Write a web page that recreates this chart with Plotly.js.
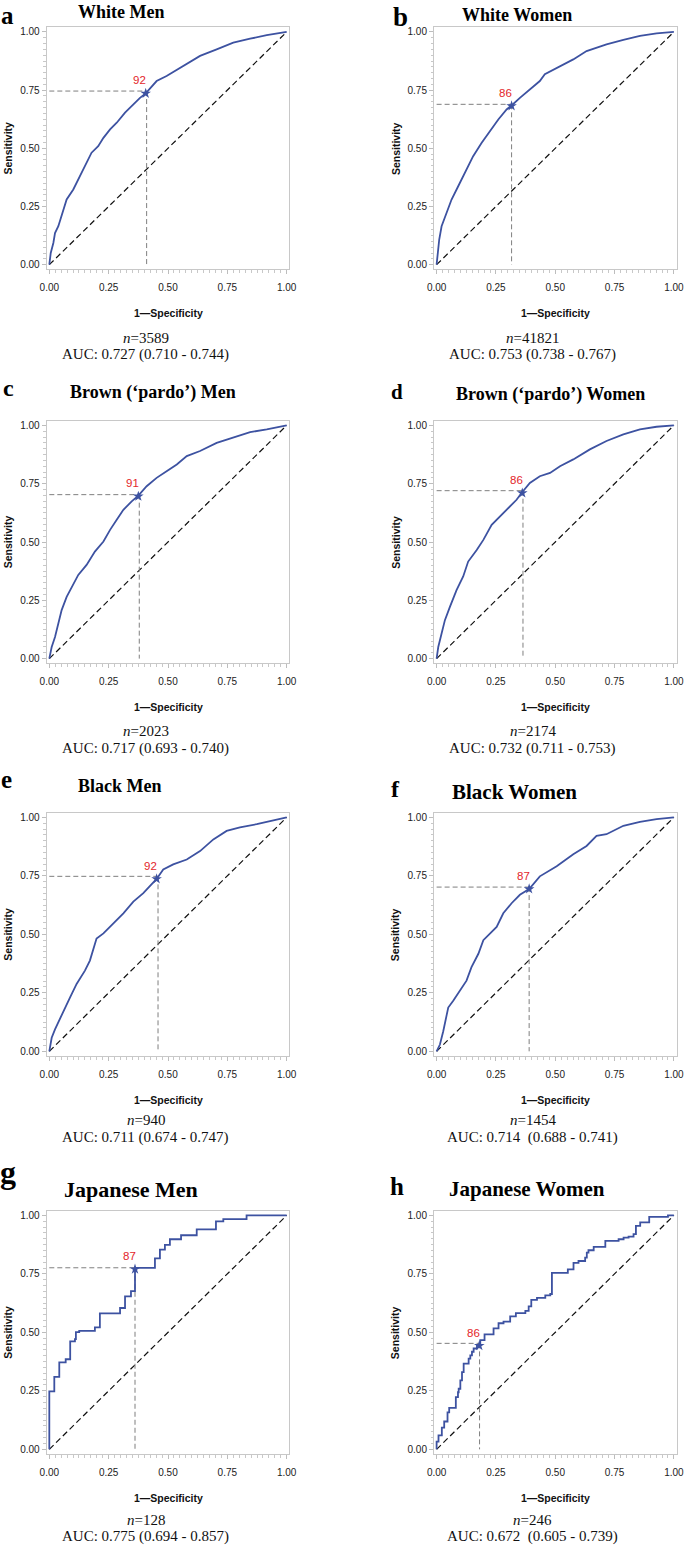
<!DOCTYPE html>
<html>
<head>
<meta charset="utf-8">
<script src="https://cdn.plot.ly/plotly-3.0.1.min.js"></script>
<style>html,body{margin:0;padding:0;background:#fff;}#chart{width:685px;height:1547px;}</style>
</head>
<body>
<div id="chart"></div>
<script>
// ---------- DATA ----------
const panelLetters = ['a','b','c','d','e','f','g','h'];
const panelTitles = ['White Men','White Women','Brown (\u2018pardo\u2019) Men','Brown (\u2018pardo\u2019) Women','Black Men','Black Women','Japanese Men','Japanese Women'];
const nValues = ['3589','41821','2023','2174','940','1454','128','246'];
const aucTexts = ['AUC: 0.727 (0.710 - 0.744)','AUC: 0.753 (0.738 - 0.767)','AUC: 0.717 (0.693 - 0.740)','AUC: 0.732 (0.711 - 0.753)','AUC: 0.711 (0.674 - 0.747)','AUC: 0.714 \u00a0(0.688 - 0.741)','AUC: 0.775 (0.694 - 0.857)','AUC: 0.672 \u00a0(0.605 - 0.739)'];
const cutoffLabels = ['92','86','91','86','92','87','87','86'];
const starX = [0.406,0.316,0.375,0.361,0.452,0.390,0.361,0.180];
const starY = [0.736,0.682,0.696,0.710,0.737,0.694,0.770,0.443];
const refX  = [0.410,0.316,0.379,0.364,0.458,0.390,0.361,0.181];
const refY  = [0.746,0.689,0.703,0.720,0.748,0.702,0.776,0.453];
const diagX = [0,1];
const diagY = [0,1];
const tickVals = [0,0.25,0.5,0.75,1];
const tickLabels = ['0.00','0.25','0.50','0.75','1.00'];

const fprA = [0,.006,.017,.024,.038,.052,.073,.101,.129,.157,.178,.206,.228,.256,.284,.319,.354,.382,.406,.438,.452,.494,.564,.635,.705,.775,.846,.916,1];
const tprA = [0,.05,.093,.136,.165,.208,.28,.323,.38,.438,.481,.509,.545,.581,.61,.653,.689,.717,.736,.77,.789,.811,.854,.897,.925,.954,.971,.986,1];
const fprB = [0,.004,.011,.021,.042,.063,.091,.119,.154,.19,.225,.26,.295,.316,.351,.393,.435,.456,.506,.576,.632,.716,.787,.857,.927,1];
const tprB = [0,.05,.108,.165,.222,.28,.337,.395,.466,.524,.574,.624,.667,.684,.717,.753,.789,.818,.846,.882,.918,.947,.966,.983,.994,1];
const fprC = [0,.01,.024,.038,.052,.073,.094,.122,.157,.192,.228,.256,.284,.312,.347,.375,.41,.452,.494,.537,.579,.635,.705,.775,.846,.916,1];
const tprC = [0,.05,.093,.151,.208,.265,.308,.359,.402,.459,.502,.552,.595,.638,.674,.699,.739,.775,.803,.832,.868,.89,.925,.947,.971,.983,1];
const fprD = [0,.007,.021,.035,.056,.084,.112,.133,.169,.197,.232,.267,.309,.337,.358,.393,.435,.478,.52,.576,.646,.716,.787,.857,.927,1];
const tprD = [0,.05,.108,.165,.222,.294,.352,.416,.466,.509,.574,.61,.653,.681,.71,.753,.782,.796,.825,.854,.897,.933,.961,.983,.994,1];
const fprE = [0,.01,.024,.045,.066,.087,.115,.15,.171,.185,.199,.228,.27,.312,.354,.396,.452,.48,.522,.579,.635,.691,.747,.803,.874,.944,1];
const tprE = [0,.058,.094,.137,.187,.23,.288,.345,.388,.439,.482,.504,.547,.59,.64,.676,.737,.777,.799,.82,.856,.906,.942,.957,.971,.986,1];
const fprF = [0,.014,.028,.039,.049,.07,.098,.126,.147,.176,.197,.225,.253,.281,.316,.351,.39,.435,.506,.576,.632,.674,.716,.787,.857,.927,1];
const tprF = [0,.029,.086,.144,.187,.216,.259,.302,.36,.417,.475,.504,.532,.59,.633,.669,.694,.748,.791,.842,.878,.921,.928,.964,.981,.993,1];
const fprG = [0,0,.021,.042,.069,.088,.108,.112,.126,.192,.213,.298,.319,.344,.361,.445,.466,.487,.508,.555,.621,.702,.733,.831,1];
const tprG = [0,.248,.31,.372,.385,.461,.471,.501,.506,.521,.581,.604,.654,.676,.776,.816,.854,.874,.898,.915,.94,.974,.984,1,1];
const fprH = [0,0,.008,.022,.032,.046,.053,.081,.09,.093,.1,.107,.114,.135,.142,.149,.156,.17,.184,.202,.24,.261,.282,.31,.334,.374,.388,.399,.423,.458,.479,.486,.553,.577,.598,.626,.633,.64,.662,.711,.767,.788,.809,.83,.84,.858,.896,.975,1];
const tprH = [0,.033,.06,.093,.119,.158,.177,.223,.244,.259,.295,.33,.366,.388,.402,.417,.431,.445,.467,.491,.517,.539,.546,.568,.582,.592,.611,.639,.647,.658,.664,.754,.769,.797,.805,.819,.841,.851,.865,.891,.898,.905,.909,.92,.955,.97,.994,1,1];

const curvesX = [fprA,fprB,fprC,fprD,fprE,fprF,fprG,fprH];
const curvesY = [tprA,tprB,tprC,tprD,tprE,tprF,tprG,tprH];
const curveShape = ['linear','linear','linear','linear','linear','linear','hv','hv'];

// ---------- LAYOUT (pixel positions) ----------
const W = 685, H = 1547;
const PX = x => x / W;
const PY = y => 1 - y / H;
const colBox = [[46.7, 289.3], [434, 676.5]];
const rowBox = [[27.3, 269.3], [420.7, 663.3], [812.7, 1056], [1210.7, 1454]];
const titleSize = [18,18,18,18,18,21,22,21];
const titlePos = [[120.7,12.2],[516.7,14.6],[153,392.2],[550.8,394.6],[119.7,785.6],[514.7,792.2],[130.8,1189.2],[527,1188.6]];
const letterSize = [25,27,24,21,25,24,32,25];
const letterPos = [[7,null],[400.8,null],[8.3,387.8],[397,392.2],[6.7,779.8],[395.5,788.5],[7.5,1172.4],[397,1186.5]];
const textX = [145.7, 532.6];
const nOff = [69, 67.4, 64, 66];
const aucOff = [85.7, 85, 81.7, 82.7];

const serif = 'Liberation Serif, Times New Roman, serif';
const sans = 'Liberation Sans, Arial, sans-serif';
const blue = '#3d52a1';

const data = [];
const layout = {
  width: W, height: H,
  margin: {l:0, r:0, t:0, b:0},
  paper_bgcolor: '#fff', plot_bgcolor: '#fff',
  showlegend: false,
  annotations: []
};

for (let i = 0; i < 8; i++) {
  const col = i % 2, row = Math.floor(i / 2);
  const s = i === 0 ? '' : String(i + 1);
  const xa = 'x' + s, ya = 'y' + s;
  const [bl, br] = colBox[col];
  const [bt, bb] = rowBox[row];
  const common = {
    showline: true, mirror: true, linecolor: '#c8c8c8', linewidth: 1,
    showgrid: false, zeroline: false,
    ticks: 'outside', ticklen: 4, tickcolor: '#bdbdbd', tickwidth: 1,
    tickvals: tickVals, ticktext: tickLabels,
    tickfont: {family: sans, size: 10, color: '#222'},
    minor: {dtick: 0.025, tick0: 0, ticks: 'outside', ticklen: 2.5, tickcolor: '#c8c8c8', tickwidth: 1, showgrid: false},
    fixedrange: true
  };
  layout['xaxis' + s] = Object.assign({}, common, {
    domain: [PX(bl), PX(br)], range: [-0.011, 1.011], anchor: ya, ticklabelstandoff: 5
  });
  layout['yaxis' + s] = Object.assign({}, common, {
    domain: [PY(bb), PY(bt)], range: [-0.02, 1.02], anchor: xa
  });

  // diagonal
  data.push({x: diagX, y: diagY, xaxis: xa, yaxis: ya, mode: 'lines', hoverinfo: 'skip',
    line: {color: '#111', width: 1.2, dash: '6px,3.5px'}});
  // reference dashed lines
  data.push({x: [0, refX[i], null, refX[i], refX[i]], y: [refY[i], refY[i], null, refY[i], 0],
    xaxis: xa, yaxis: ya, mode: 'lines', hoverinfo: 'skip',
    line: {color: '#7f7f7f', width: 1, dash: '5px,3px'}});
  // ROC curve
  data.push({x: curvesX[i], y: curvesY[i], xaxis: xa, yaxis: ya, mode: 'lines',
    line: {color: blue, width: 1.8, shape: curveShape[i]}});
  // star
  data.push({x: [starX[i]], y: [starY[i]], xaxis: xa, yaxis: ya, mode: 'markers',
    marker: {symbol: 'star', size: 8, color: blue}});
  // cutoff label
  layout.annotations.push({xref: xa, yref: ya, x: starX[i], y: starY[i], xshift: -6, yshift: 13,
    xanchor: 'center', yanchor: 'middle', showarrow: false,
    text: cutoffLabels[i], font: {family: sans, size: 11.5, color: '#e3262b'}});

  // axis titles
  const cx = (bl + br) / 2, cy = (bt + bb) / 2;
  layout.annotations.push({xref: 'paper', yref: 'paper', x: PX(cx), y: PY(bb + 44),
    xanchor: 'center', yanchor: 'middle', showarrow: false,
    text: '<b>1\u2014Specificity</b>', font: {family: sans, size: 10.5, color: '#111'}});
  layout.annotations.push({xref: 'paper', yref: 'paper', x: PX(col === 0 ? 8.3 : 395.8), y: PY(cy),
    xanchor: 'center', yanchor: 'middle', showarrow: false, textangle: -90,
    text: '<b>Sensitivity</b>', font: {family: sans, size: 10.5, color: '#111'}});
  // panel title and letter
  layout.annotations.push({xref: 'paper', yref: 'paper', x: PX(titlePos[i][0]), y: PY(titlePos[i][1]),
    xanchor: 'center', yanchor: 'middle', showarrow: false,
    text: '<b>' + panelTitles[i] + '</b>', font: {family: serif, size: titleSize[i], color: '#000'}});
  const lp = letterPos[i];
  layout.annotations.push({xref: 'paper', yref: 'paper', x: PX(lp[0]), y: lp[1] === null ? 1 : PY(lp[1]),
    xanchor: 'center', yanchor: lp[1] === null ? 'top' : 'middle', showarrow: false,
    text: '<b>' + panelLetters[i] + '</b>', font: {family: serif, size: letterSize[i], color: '#000'}});
  // n and AUC
  layout.annotations.push({xref: 'paper', yref: 'paper', x: PX(textX[col]), y: PY(bb + nOff[row]),
    xanchor: 'center', yanchor: 'middle', showarrow: false,
    text: '<i>n</i>=' + nValues[i], font: {family: serif, size: 15, color: '#111'}});
  layout.annotations.push({xref: 'paper', yref: 'paper', x: PX(textX[col]), y: PY(bb + aucOff[row]),
    xanchor: 'center', yanchor: 'middle', showarrow: false,
    text: aucTexts[i], font: {family: serif, size: 15, color: '#111'}});
}

Plotly.newPlot('chart', data, layout, {staticPlot: true, displayModeBar: false});
</script>
</body>
</html>
